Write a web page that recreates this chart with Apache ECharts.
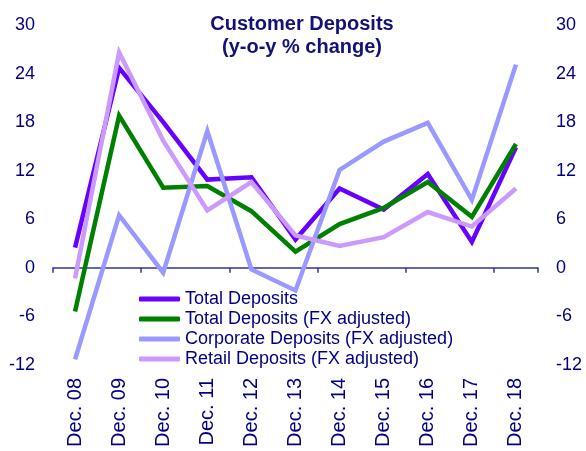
<!DOCTYPE html>
<html><head><meta charset="utf-8">
<script src="https://cdn.jsdelivr.net/npm/echarts@6/dist/echarts.min.js"></script>
<style>html,body{margin:0;padding:0;background:#fff}#c{width:586px;height:451px}</style>
</head><body><div id="c"></div>
<script>
const categories = ['Dec. 08','Dec. 09','Dec. 10','Dec. 11','Dec. 12','Dec. 13','Dec. 14','Dec. 15','Dec. 16','Dec. 17','Dec. 18'];
const totalDeposits = [2.5, 24.7, 18.0, 10.9, 11.2, 3.5, 9.8, 7.2, 11.6, 3.2, 14.9];
const totalDepositsFx = [-5.4, 18.8, 9.9, 10.1, 7.0, 2.0, 5.4, 7.4, 10.6, 6.3, 15.3];
const corporateDepositsFx = [-11.3, 6.5, -0.6, 16.9, -0.2, -2.8, 12.1, 15.6, 17.9, 8.4, 25.1];
const retailDepositsFx = [-1.3, 26.6, 15.7, 7.1, 10.6, 4.0, 2.7, 3.8, 6.9, 5.1, 9.8];
const seriesNames = ['Total Deposits','Total Deposits (FX adjusted)','Corporate Deposits (FX adjusted)','Retail Deposits (FX adjusted)'];
const yMin = -12, yMax = 30, yStep = 6;

const FONT = '"Liberation Sans", Arial, sans-serif';
const NAVY = '#000080';
const colors = ['#6600FF','#008000','#9999FF','#CC99FF'];
const seriesData = [totalDeposits, totalDepositsFx, corporateDepositsFx, retailDepositsFx];

const chart = echarts.init(document.getElementById('c'), null, {renderer:'canvas'});
const yAxisBase = {
  type:'value', min:yMin, max:yMax, interval:yStep,
  axisLine:{show:false}, axisTick:{show:false}, splitLine:{show:false},
  axisLabel:{color:NAVY, fontSize:18, fontFamily:FONT, margin:18}
};
chart.setOption({
  animation:false,
  backgroundColor:'#fff',
  title:{
    text:'Customer Deposits\n(y-o-y % change)',
    left:297, top:8, textAlign:'center',
    textStyle:{color:'#111177', fontSize:20, fontWeight:'bold', fontFamily:FONT, lineHeight:23}
  },
  legend:{
    orient:'vertical', left:139, top:289, padding:0, itemGap:0,
    itemWidth:41, itemHeight:5, icon:'roundRect',
    textStyle:{color:NAVY, fontSize:18, fontFamily:FONT, lineHeight:20, height:20},
    data:seriesNames
  },
  grid:{left:53, right:48, top:25, bottom:86},
  xAxis:[
    {type:'category', data:categories, boundaryGap:true, position:'bottom',
     axisLine:{onZero:true, lineStyle:{color:'#333399', width:1.5}},
     axisTick:{show:true, interval:1, length:5, inside:false, lineStyle:{color:'#333399', width:1.5}},
     axisLabel:{show:false}, splitLine:{show:false}},
    {type:'category', data:categories, boundaryGap:true, position:'bottom',
     axisLine:{show:false, onZero:false}, axisTick:{show:false},
     axisLabel:{show:true, interval:0, rotate:90, color:NAVY, fontSize:20, fontFamily:FONT, margin:13},
     splitLine:{show:false}}
  ],
  yAxis:[
    Object.assign({position:'left'}, yAxisBase),
    Object.assign({position:'right'}, yAxisBase)
  ],
  series: seriesNames.map((n,i)=>({
    name:n, type:'line', data:seriesData[i], xAxisIndex:0, yAxisIndex:0,
    symbol:'none', smooth:false,
    lineStyle:{color:colors[i], width:4.5, join:'miter'},
    itemStyle:{color:colors[i]}
  }))
});
</script>
</body></html>
